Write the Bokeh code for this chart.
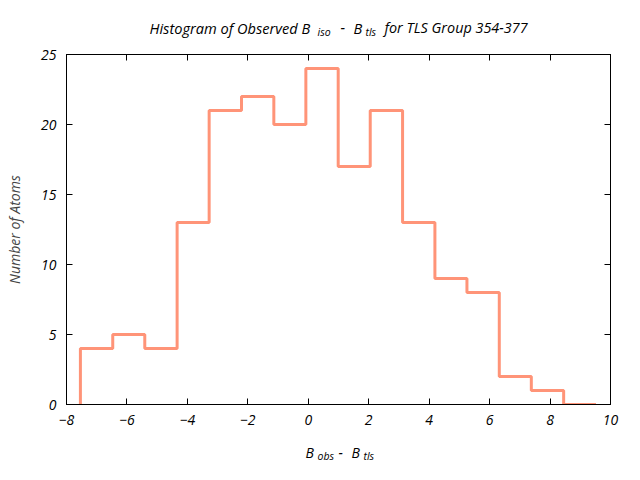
from bokeh.plotting import figure
from bokeh.layouts import column
from bokeh.models import LinearAxis, FixedTicker, Range1d, CustomJSTickFormatter
from bokeh.core.properties import value
from bokeh.embed import file_html
from bokeh.resources import INLINE

# ---- data ----
bin_edges = [-7.54, -6.47, -5.41, -4.34, -3.28, -2.21, -1.14, -0.08, 0.99,
             2.05, 3.12, 4.19, 5.25, 6.32, 7.38, 8.45, 9.52]
counts = [4, 5, 4, 13, 21, 22, 20, 24, 17, 21, 13, 9, 8, 2, 1, 0]
x_ticks = [-8, -6, -4, -2, 0, 2, 4, 6, 8, 10]
y_ticks = [0, 5, 10, 15, 20, 25]

title_parts = ["Histogram of Observed B", "iso", "-", "B", "tls", "for TLS Group 354-377"]
xlabel_parts = ["B", "obs", "-", "B", "tls"]
y_label = "Number of Atoms"

FONT = "Open Sans"
LINE_COLOR = "#FF9478"
W = 640
FL, FR = 66, 610
TITLE_H = 42
XLAB_H = 40
MAIN_H = 480 - TITLE_H - XLAB_H
DY = -5  # empirical baseline correction

# ---- main plot ----
p = figure(width=W, height=MAIN_H, x_range=Range1d(-8, 10), y_range=Range1d(0, 25),
           output_backend="svg", toolbar_location=None,
           min_border_left=FL, min_border_right=W - FR,
           min_border_top=54 - TITLE_H, min_border_bottom=TITLE_H + MAIN_H - 404)
p.grid.visible = False
p.outline_line_color = "black"
p.outline_line_width = 1
p.background_fill_color = "white"
p.border_fill_color = "white"

def style_axis(ax, ticks, labels=True):
    ax.ticker = FixedTicker(ticks=ticks)
    ax.major_tick_in = 6
    ax.major_tick_out = 0
    ax.minor_tick_line_color = None
    ax.axis_line_color = "black"
    ax.major_tick_line_color = "black"
    ax.major_label_text_font = FONT
    ax.major_label_text_font_style = "italic"
    ax.major_label_text_font_size = "14px"
    ax.major_label_text_color = "black"
    ax.major_label_standoff = 10
    if not labels:
        ax.formatter = CustomJSTickFormatter(code="return ''")
        ax.major_label_text_font_size = "0px"
        ax.major_label_standoff = 0

style_axis(p.xaxis[0], x_ticks)
style_axis(p.yaxis[0], y_ticks)
p.yaxis[0].axis_label = y_label
p.yaxis[0].axis_label_text_font = FONT
p.yaxis[0].axis_label_text_font_style = "italic"
p.yaxis[0].axis_label_text_font_size = "14px"
p.yaxis[0].axis_label_standoff = 14
top_ax = LinearAxis()
right_ax = LinearAxis()
style_axis(top_ax, x_ticks, labels=False)
style_axis(right_ax, y_ticks, labels=False)
p.add_layout(top_ax, "above")
p.add_layout(right_ax, "right")

# step outline of histogram
xs = [bin_edges[0]]
ys = [0]
for i, c in enumerate(counts):
    xs += [bin_edges[i], bin_edges[i + 1]]
    ys += [c, c]
p.line(xs, ys, line_color=LINE_COLOR, line_width=3)

# ---- text strips (coordinates are page pixels) ----
def strip(h, y_top):
    f = figure(width=W, height=h, x_range=Range1d(FL, FR), y_range=Range1d(y_top + h, y_top),
               output_backend="svg", toolbar_location=None, min_border=0,
               min_border_left=FL, min_border_right=W - FR)
    f.axis.visible = False
    f.grid.visible = False
    f.outline_line_color = None
    return f

def put(f, txt, px, py, size):
    f.text(x=[px], y=[py + DY], text=[txt], text_font=value(FONT), text_font_style="italic",
           text_font_size=size, text_baseline="alphabetic", text_align="left",
           text_color="black")

t = strip(TITLE_H, 0)
put(t, title_parts[0], 149, 32, "14.6px")
put(t, title_parts[1], 317, 36, "10.5px")
put(t, title_parts[2], 340, 32, "14.6px")
put(t, title_parts[3], 353, 32, "14.6px")
put(t, title_parts[4], 365, 36, "10.5px")
put(t, title_parts[5], 384, 32, "14.4px")

xl = strip(XLAB_H, TITLE_H + MAIN_H)
put(xl, xlabel_parts[0], 305, 457, "14px")
put(xl, xlabel_parts[1], 317, 460, "10.5px")
put(xl, xlabel_parts[2], 338, 457, "14px")
put(xl, xlabel_parts[3], 351, 457, "14px")
put(xl, xlabel_parts[4], 363, 460, "10.5px")

layout = column(t, p, xl, spacing=0)
open("out.html", "w").write(file_html(layout, INLINE))
